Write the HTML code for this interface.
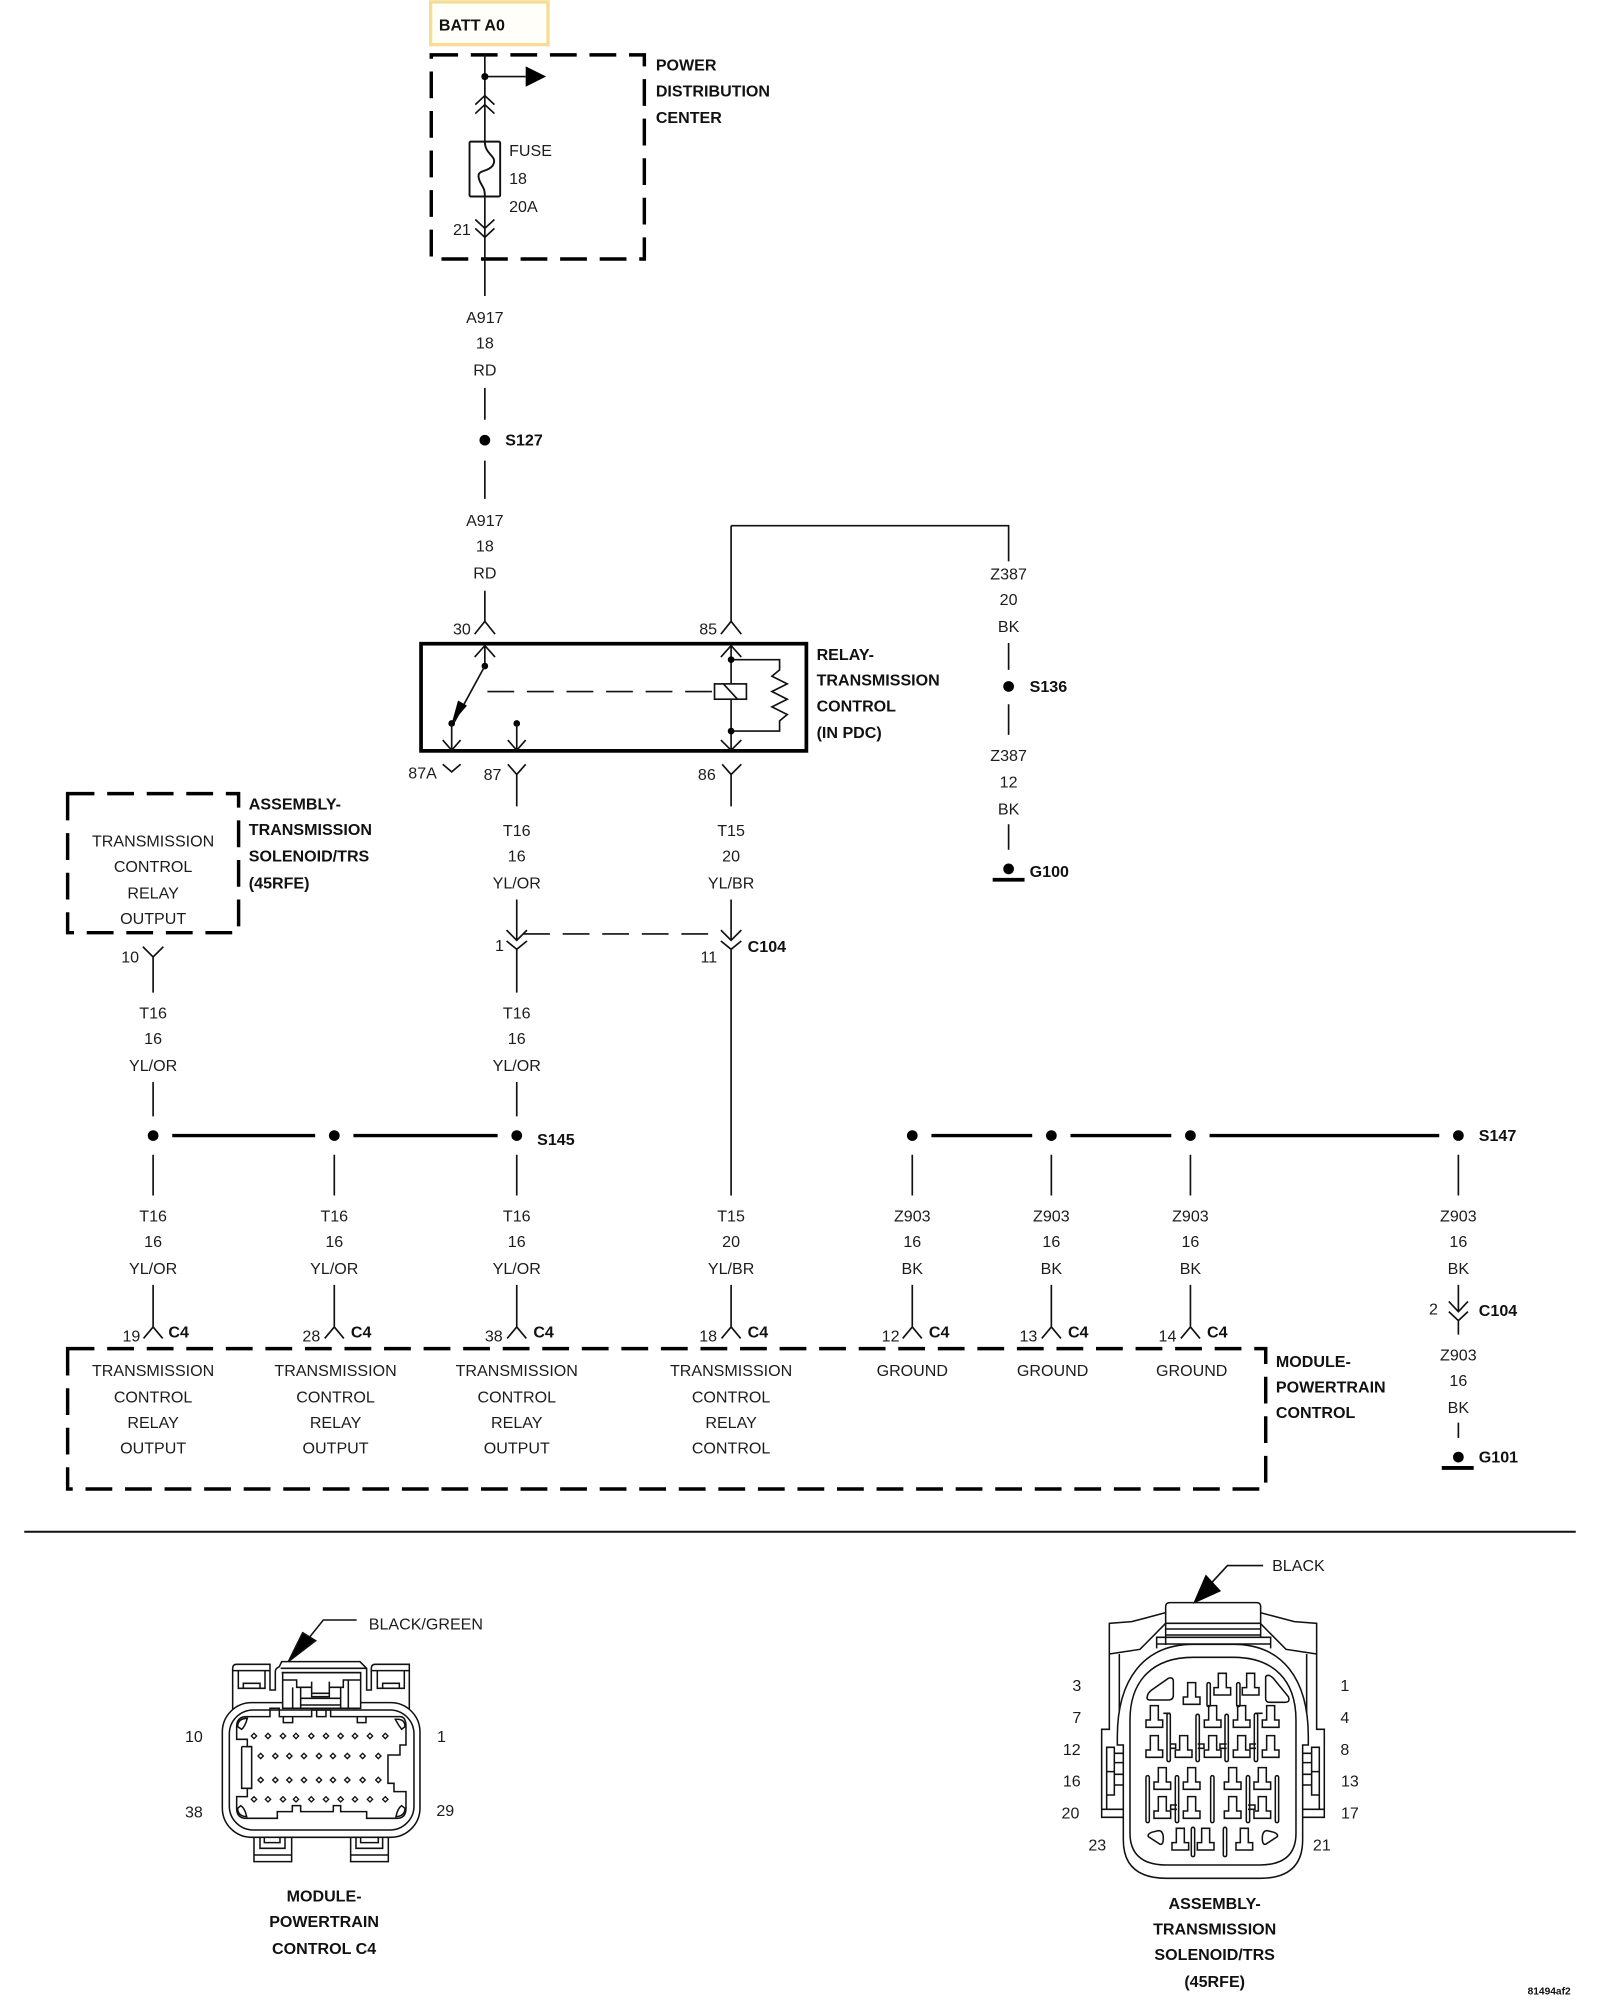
<!DOCTYPE html>
<html><head><meta charset="utf-8"><title>Wiring diagram</title>
<style>
html,body{margin:0;padding:0;background:#fff;width:1600px;height:2000px;overflow:hidden}
svg{display:block}
text{font-family:"Liberation Sans",sans-serif;font-size:12.6px;fill:#1c1c1c;dominant-baseline:central;transform:translateY(.4px)}
.c{text-anchor:middle}
.b{font-weight:bold;fill:#111}
.w{fill:none;stroke:#111;stroke-width:1.3}
.t{fill:none;stroke:#000;stroke-width:2.6}
.d{fill:none;stroke:#000;stroke-width:2.7;stroke-dasharray:21 10}
.n{fill:none;stroke:#111;stroke-width:4.6}
</style></head><body>
<svg xmlns="http://www.w3.org/2000/svg" width="1600" height="2000" viewBox="0 0 1254 1567.5">
<rect width="1254" height="1567.5" fill="#fff"/>
<!-- top -->
<rect x="337.5" y="1.5" width="92" height="33.5" fill="#fffef8" stroke="#f6dd94" stroke-width="2.6"/>
<text x="344" y="19.5" class="b">BATT A0</text>
<rect x="338" y="43" width="167" height="160" class="d"/>
<text x="514" y="51" class="b">POWER</text><text x="514" y="71.5" class="b">DISTRIBUTION</text><text x="514" y="92" class="b">CENTER</text>
<path class="w" d="M380,43V111M380,154V232M380,60H412"/>
<circle cx="380" cy="60" r="2.8"/><path d="M412,52L428,60L412,68Z"/>
<path class="w" d="M372.500,82L380,75L387.500,82M372.500,89L380,82L387.500,89"/>
<rect x="368" y="111" width="24" height="43" rx="1" class="w" style="stroke-width:1.5"/>
<path class="w" style="stroke-width:1.5" d="M380,111C380,122 391,122 386,130C381,136 372,132 376,142C379,148 380,148 380,154"/>
<text x="399" y="118">FUSE</text><text x="399" y="140">18</text><text x="399" y="162">20A</text><text x="355" y="180">21</text>
<path class="w" d="M372.500,172L380,179L387.500,172M372.500,179L380,186L387.500,179"/>
<text x="380" y="249" class="c">A917</text><text x="380" y="269" class="c">18</text><text x="380" y="290" class="c">RD</text>
<path class="w" d="M380,304V329M380,361V391M380,463V487"/>
<circle cx="380" cy="345" r="4.200"/><text x="396" y="345" class="b">S127</text>
<text x="380" y="408" class="c">A917</text><text x="380" y="428" class="c">18</text><text x="380" y="449" class="c">RD</text>
<!-- relay -->
<path class="w" d="M372,497L380,487L388,497M565,497L573,487L581,497"/>
<text x="355" y="493">30</text><text x="548" y="493">85</text>
<rect x="330" y="504.500" width="302" height="84" fill="none" stroke="#000" stroke-width="2.900"/>
<path class="w" d="M372,515L380,506L388,515M380,506V522M565,515L573,506L581,515M573,412V487M573,412H790.500V440"/>
<circle cx="380" cy="522" r="2.600"/>
<path class="w" d="M380,522L356,566"/><path d="M354,567L359,549L366,553Z"/>
<circle cx="354" cy="567" r="2.600"/><circle cx="405" cy="567" r="2.600"/>
<path class="w" d="M354,567V588M347,580L354,588L361,580M405,567V588M398,580L405,588L412,580"/>
<path class="w" d="M347,599L354,605L361,599M398,599L405,607L412,599M405,607V632M566,599L573,607L581,599M573,607V632"/>
<text x="320" y="606">87A</text><text x="379" y="607">87</text><text x="547" y="607">86</text>
<path class="w" stroke-dasharray="21 10" d="M382,542H560"/>
<rect x="560" y="536" width="25" height="12" class="w"/>
<path class="w" d="M567,536L578,548M573,506V536M573,548V588M565,580L573,588L581,580M573,517H611V525L605,530L617,536L605,542L617,548L605,554L617,560L611,565V573H573"/>
<circle cx="573" cy="517" r="2.600"/><circle cx="573" cy="573" r="2.600"/>
<text x="640" y="513" class="b">RELAY-</text><text x="640" y="533" class="b">TRANSMISSION</text><text x="640" y="553.500" class="b">CONTROL</text><text x="640" y="574" class="b">(IN PDC)</text>
<!-- Z387 -->
<text x="790.500" y="450" class="c">Z387</text><text x="790.500" y="470" class="c">20</text><text x="790.500" y="491" class="c">BK</text>
<path class="w" d="M790.500,504V525M790.500,552V576M790.500,646V666"/>
<circle cx="790.500" cy="538" r="4.200"/><text x="807" y="538" class="b">S136</text>
<text x="790.500" y="592" class="c">Z387</text><text x="790.500" y="613" class="c">12</text><text x="790.500" y="634" class="c">BK</text>
<circle cx="790.500" cy="681" r="4.200"/><path class="t" style="stroke-width:3" d="M778,689.500H803"/><text x="807" y="683" class="b">G100</text>
<!-- assembly -->
<rect x="53" y="622" width="134" height="109" class="d"/>
<text x="120" y="659" class="c">TRANSMISSION</text><text x="120" y="679" class="c">CONTROL</text><text x="120" y="700" class="c">RELAY</text><text x="120" y="720" class="c">OUTPUT</text>
<text x="195" y="630" class="b">ASSEMBLY-</text><text x="195" y="650" class="b">TRANSMISSION</text><text x="195" y="671" class="b">SOLENOID/TRS</text><text x="195" y="692" class="b">(45RFE)</text>
<text x="95" y="750">10</text>
<path class="w" d="M112,742L120,750L128,742M120,750V778"/>
<text x="405" y="651" class="c">T16</text><text x="405" y="671" class="c">16</text><text x="405" y="692" class="c">YL/OR</text>
<text x="573" y="651" class="c">T15</text><text x="573" y="671" class="c">20</text><text x="573" y="692" class="c">YL/BR</text>
<path class="w" d="M405,705V737M397,729L405,737L413,729M397,737.500L405,744L413,737.500M405,744V778M573,705V737M565,729L573,737L581,729M565,737.500L573,744L581,737.500M573,744V937"/>
<path class="w" stroke-dasharray="21 10" d="M410,732H560"/>
<text x="388" y="741">1</text><text x="549" y="750">11</text><text x="586" y="742" class="b">C104</text>
<text x="120" y="794" class="c">T16</text><text x="120" y="814" class="c">16</text><text x="120" y="835" class="c">YL/OR</text>
<text x="405" y="794" class="c">T16</text><text x="405" y="814" class="c">16</text><text x="405" y="835" class="c">YL/OR</text>
<path class="w" d="M120,848V875M405,848V875M120,905V937M262,905V937M405,905V937M715,905V937M824,905V937M933,905V937M1143,905V937"/>
<circle cx="120" cy="890" r="4.200"/><circle cx="262" cy="890" r="4.200"/><circle cx="405" cy="890" r="4.200"/>
<path class="t" d="M135,890H247M277,890H390M730,890H809M839,890H918M948,890H1128"/>
<circle cx="715" cy="890" r="4.200"/><circle cx="824" cy="890" r="4.200"/><circle cx="933" cy="890" r="4.200"/><circle cx="1143" cy="890" r="4.200"/>
<text x="421" y="893" class="b">S145</text><text x="1159" y="890" class="b">S147</text>
<text x="120" y="953" class="c">T16</text><text x="120" y="973" class="c">16</text><text x="120" y="994" class="c">YL/OR</text>
<text x="262" y="953" class="c">T16</text><text x="262" y="973" class="c">16</text><text x="262" y="994" class="c">YL/OR</text>
<text x="405" y="953" class="c">T16</text><text x="405" y="973" class="c">16</text><text x="405" y="994" class="c">YL/OR</text>
<text x="573" y="953" class="c">T15</text><text x="573" y="973" class="c">20</text><text x="573" y="994" class="c">YL/BR</text>
<text x="715" y="953" class="c">Z903</text><text x="715" y="973" class="c">16</text><text x="715" y="994" class="c">BK</text>
<text x="824" y="953" class="c">Z903</text><text x="824" y="973" class="c">16</text><text x="824" y="994" class="c">BK</text>
<text x="933" y="953" class="c">Z903</text><text x="933" y="973" class="c">16</text><text x="933" y="994" class="c">BK</text>
<text x="1143" y="953" class="c">Z903</text><text x="1143" y="973" class="c">16</text><text x="1143" y="994" class="c">BK</text>
<path class="w" d="M120,1007V1040M112.500,1049L120,1040L127.500,1049M262,1007V1040M254.500,1049L262,1040L269.500,1049M405,1007V1040M397.500,1049L405,1040L412.500,1049M573,1007V1040M565.500,1049L573,1040L580.500,1049M715,1007V1040M707.500,1049L715,1040L722.500,1049M824,1007V1040M816.500,1049L824,1040L831.500,1049M933,1007V1040M925.500,1049L933,1040L940.500,1049"/>
<text x="96" y="1047">19</text><text x="132" y="1044" class="b">C4</text>
<text x="237" y="1047">28</text><text x="275" y="1044" class="b">C4</text>
<text x="380" y="1047">38</text><text x="418" y="1044" class="b">C4</text>
<text x="548" y="1047">18</text><text x="586" y="1044" class="b">C4</text>
<text x="691" y="1047">12</text><text x="728" y="1044" class="b">C4</text>
<text x="799" y="1047">13</text><text x="837" y="1044" class="b">C4</text>
<text x="908" y="1047">14</text><text x="946" y="1044" class="b">C4</text>
<rect x="53" y="1057" width="939" height="110" class="d"/>
<text x="120" y="1074" class="c">TRANSMISSION</text><text x="120" y="1095" class="c">CONTROL</text><text x="120" y="1115" class="c">RELAY</text><text x="120" y="1135" class="c">OUTPUT</text>
<text x="263" y="1074" class="c">TRANSMISSION</text><text x="263" y="1095" class="c">CONTROL</text><text x="263" y="1115" class="c">RELAY</text><text x="263" y="1135" class="c">OUTPUT</text>
<text x="405" y="1074" class="c">TRANSMISSION</text><text x="405" y="1095" class="c">CONTROL</text><text x="405" y="1115" class="c">RELAY</text><text x="405" y="1135" class="c">OUTPUT</text>
<text x="573" y="1074" class="c">TRANSMISSION</text><text x="573" y="1095" class="c">CONTROL</text><text x="573" y="1115" class="c">RELAY</text><text x="573" y="1135" class="c">CONTROL</text>
<text x="715" y="1074" class="c">GROUND</text><text x="825" y="1074" class="c">GROUND</text><text x="934" y="1074" class="c">GROUND</text>
<text x="1000" y="1067" class="b">MODULE-</text><text x="1000" y="1087" class="b">POWERTRAIN</text><text x="1000" y="1107" class="b">CONTROL</text>
<path class="w" d="M1143,1007V1028M1135.500,1020L1143,1028L1150.500,1020M1135.500,1028L1143,1035L1150.500,1028M1143,1035V1046M1143,1115V1127"/>
<text x="1120" y="1026">2</text><text x="1159" y="1027" class="b">C104</text>
<text x="1143" y="1062" class="c">Z903</text><text x="1143" y="1082" class="c">16</text><text x="1143" y="1103" class="c">BK</text>
<circle cx="1143" cy="1142" r="4.200"/><path class="t" style="stroke-width:3" d="M1130,1150.500H1155"/><text x="1159" y="1142" class="b">G101</text>
<path d="M19,1200.500H1235" stroke="#111" stroke-width="1.6" fill="none"/>

<!-- left connector -->
<text x="289" y="1273">BLACK/GREEN</text>
<text x="152" y="1361" class="c">10</text><text x="346" y="1361" class="c">1</text><text x="152" y="1420" class="c">38</text><text x="349" y="1419" class="c">29</text>
<text x="254" y="1486" class="c b">MODULE-</text><text x="254" y="1506" class="c b">POWERTRAIN</text><text x="254" y="1527" class="c b">CONTROL C4</text>
<g transform="scale(.78375) translate(170,1600) scale(.3333)" class="n">
<path d="M560,60H460L420,110"/><path d="M398,98L437,122L355,185Z" fill="#000"/>
<path d="M188,330V205Q188,193 200,193H300V270H316V215Q316,205 328,200L335,185H570L590,205V270H604V205Q604,193 616,193H718V330"/>
<path d="M188,212H300M604,212H718M205,212V265H285V212M220,265V250H270V265M622,212V265H703V212M638,265V250H688V265"/>
<rect x="157" y="308" width="593" height="404" rx="88" fill="#fff"/>
<rect x="178" y="330" width="554" height="360" rx="72"/>
<path d="M230,350H300V325H328V350H425V330H482V350H690Q708,350 708,380V435H690V465H672V465H654V550H672V575H708V625Q708,655 680,655H590V635H512V617H490V635H392V617H367V635H322V655H230Q200,655 200,625V590H232V565H245V440H232V418H200V380Q200,350 230,350Z"/>
<path d="M215,440H245M215,440V565H245"/>
<path fill="#fff" d="M338,218V325H572V218Z"/>
<path d="M332,205H590M335,218H572M368,262V325M392,262V325M512,262V325M535,240V325M392,295H512M392,315H512M338,240H380V262H425V290H478V262H520V240H572M425,245V280H478V245"/>
<path d="M340,350V368H368V350M440,330V350H468V330M562,350V368H588V350"/>
<path d="M252,712V785H365V712M252,765H365M270,712V745H345V712M283,712V728H330V712M542,712V785H655V712M542,765H655M558,712V745H638V712M572,712V728H625V712"/>
<path d="M203,380Q203,355 232,355Q225,380 215,388ZM705,380Q705,355 676,358Q685,375 695,388ZM203,625Q203,648 230,650Q225,625 212,617ZM705,625Q705,648 678,650Q683,625 695,617Z"/>
<path stroke-width="4" d="M244,408l8,-8l8,8l-8,8zM286,408l8,-8l8,8l-8,8zM331,408l8,-8l8,8l-8,8zM370,408l8,-8l8,8l-8,8zM416,408l8,-8l8,8l-8,8zM460,408l8,-8l8,8l-8,8zM504,408l8,-8l8,8l-8,8zM547,408l8,-8l8,8l-8,8zM592,408l8,-8l8,8l-8,8zM638,408l8,-8l8,8l-8,8zM264,468l8,-8l8,8l-8,8zM308,468l8,-8l8,8l-8,8zM350,468l8,-8l8,8l-8,8zM394,468l8,-8l8,8l-8,8zM439,468l8,-8l8,8l-8,8zM481,468l8,-8l8,8l-8,8zM524,468l8,-8l8,8l-8,8zM570,468l8,-8l8,8l-8,8zM617,468l8,-8l8,8l-8,8zM264,540l8,-8l8,8l-8,8zM308,540l8,-8l8,8l-8,8zM350,540l8,-8l8,8l-8,8zM394,540l8,-8l8,8l-8,8zM439,540l8,-8l8,8l-8,8zM481,540l8,-8l8,8l-8,8zM524,540l8,-8l8,8l-8,8zM570,540l8,-8l8,8l-8,8zM617,540l8,-8l8,8l-8,8zM244,598l8,-8l8,8l-8,8zM286,598l8,-8l8,8l-8,8zM331,598l8,-8l8,8l-8,8zM370,598l8,-8l8,8l-8,8zM416,598l8,-8l8,8l-8,8zM460,598l8,-8l8,8l-8,8zM504,598l8,-8l8,8l-8,8zM547,598l8,-8l8,8l-8,8zM592,598l8,-8l8,8l-8,8zM638,598l8,-8l8,8l-8,8z"/>
</g>

<!-- right connector -->
<text x="997" y="1227">BLACK</text>
<text x="844" y="1321" class="c">3</text><text x="844" y="1346" class="c">7</text><text x="840" y="1371" class="c">12</text><text x="840" y="1396" class="c">16</text><text x="839" y="1421" class="c">20</text><text x="860" y="1446" class="c">23</text>
<text x="1054" y="1321" class="c">1</text><text x="1054" y="1346" class="c">4</text><text x="1054" y="1371" class="c">8</text><text x="1058" y="1396" class="c">13</text><text x="1058" y="1421" class="c">17</text><text x="1036" y="1446" class="c">21</text>
<text x="952" y="1492" class="c b">ASSEMBLY-</text><text x="952" y="1512" class="c b">TRANSMISSION</text><text x="952" y="1532" class="c b">SOLENOID/TRS</text><text x="952" y="1553" class="c b">(45RFE)</text>
<path class="w" d="M990,1227H962L950,1240"/><path d="M945,1234L957,1247L935,1257Z"/>
<g transform="scale(.78375) translate(1060,1580) scale(.3333)" class="n">
<defs>
<path id="p" d="M-12,0h24v43h13v22h-50v-22h13z"/>
<g id="h">
<path d="M317,98L215,125L148,130V222L240,208L317,130M148,222V448H125V712H190M125,688H190M178,222V465H196V612H212M196,495H212M196,530H243V560H196M140,502H163V645H140ZM140,575H163M163,520H196M163,548H196M163,583H196M163,615H196M140,645V688"/>
</g>
</defs>
<use href="#h"/>
<use href="#h" transform="translate(918,0) scale(-1,1)"/>
<path d="M290,205V172H632V205M290,192H632M317,195V80Q317,68 330,68H590Q602,68 602,80V172M317,130H602M317,147H602M317,165H602"/>
<path fill="#fff" d="M172,470C172,300 250,193 400,193H520C670,193 745,300 745,470V495H728V780Q728,895 600,895H320Q190,895 190,780V495H172Z"/>
<path d="M210,420C210,300 280,232 400,232H520C640,232 708,300 708,420V760Q708,855 600,855H320Q210,855 210,760Z"/>
<path d="M262,350Q262,340 275,330L325,295Q340,290 340,305V345Q340,360 325,360H272Q258,360 262,350ZM617,290Q625,280 640,295L685,350Q692,367 675,367H630Q617,367 617,355ZM265,770Q262,762 275,757L295,752Q310,752 310,775Q310,795 300,793ZM652,770Q655,762 642,757L622,752Q607,752 607,775Q607,795 617,793Z"/>
<g>
<use href="#p" x="487" y="280"/><use href="#p" x="572" y="280"/><use href="#p" x="395" y="308"/>
<use href="#p" x="283" y="377"/><use href="#p" x="458" y="377"/><use href="#p" x="545" y="377"/><use href="#p" x="632" y="377"/>
<use href="#p" x="283" y="467"/><use href="#p" x="371" y="467"/><use href="#p" x="458" y="467"/><use href="#p" x="545" y="467"/><use href="#p" x="632" y="467"/>
<use href="#p" x="307" y="563"/><use href="#p" x="395" y="563"/><use href="#p" x="518" y="563"/><use href="#p" x="607" y="563"/>
<use href="#p" x="307" y="650"/><use href="#p" x="395" y="650"/><use href="#p" x="518" y="650"/><use href="#p" x="607" y="650"/>
<use href="#p" x="361" y="745"/><use href="#p" x="437" y="745"/><use href="#p" x="553" y="745"/>
</g>
<g>
<rect x="441" y="308" width="10" height="72" rx="5"/><rect x="530" y="308" width="10" height="72" rx="5"/>
<rect x="321" y="400" width="10" height="145" rx="5"/><rect x="408" y="403" width="10" height="142" rx="5"/><rect x="495" y="403" width="10" height="142" rx="5"/><rect x="583" y="400" width="10" height="145" rx="5"/>
<rect x="258" y="587" width="10" height="141" rx="5"/><rect x="346" y="587" width="10" height="141" rx="5"/><rect x="452" y="587" width="10" height="141" rx="5"/><rect x="559" y="587" width="10" height="141" rx="5"/><rect x="646" y="587" width="10" height="141" rx="5"/>
<rect x="394" y="742" width="10" height="88" rx="5"/><rect x="490" y="742" width="10" height="88" rx="5"/>
</g>
<path d="M310,400H331M331,492H347V505H331M413,492H432V505H413M500,492H480V505H500M588,492H570V505H588M588,400H608M351,675H332V688H351M564,675H585V688H564"/>
</g>
<text x="1231" y="1561" text-anchor="end" class="b" style="font-size:8px">81494af2</text>
</svg>
</body></html>
